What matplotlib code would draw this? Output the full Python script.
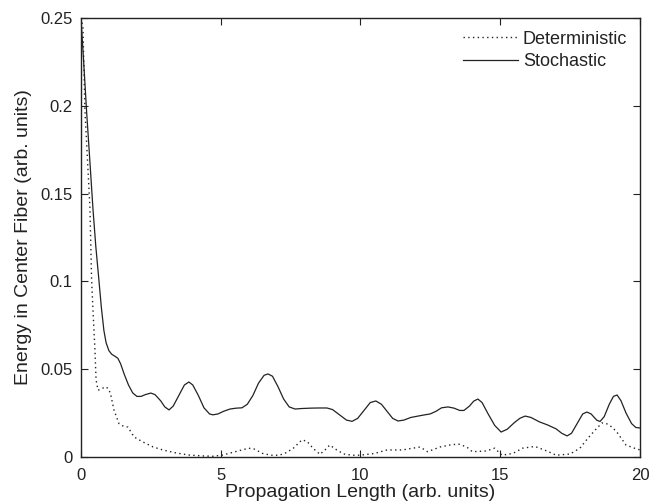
import matplotlib
matplotlib.use("Agg")
import matplotlib.pyplot as plt

plt.rcParams['font.family'] = ['Liberation Sans', 'DejaVu Sans']

# Stochastic propagation: energy remaining in the center fiber
stoch_x = [0, 0.1, 0.2, 0.32, 0.43, 0.53, 0.64, 0.73, 0.82, 0.9, 1.0, 1.1,
           1.2, 1.32, 1.42, 1.55, 1.7, 1.85, 2.0, 2.15, 2.3, 2.5, 2.65, 2.85,
           3.0, 3.15, 3.3, 3.5, 3.7, 3.86, 4.0, 4.2, 4.4, 4.6, 4.72, 4.9, 5.1,
           5.33, 5.55, 5.76, 5.95, 6.15, 6.35, 6.55, 6.69, 6.85, 7.05, 7.25,
           7.45, 7.66, 7.9, 8.2, 8.5, 8.8, 9.0, 9.25, 9.5, 9.7, 9.9, 10.15,
           10.35, 10.55, 10.75, 10.95, 11.15, 11.34, 11.55, 11.8, 12.06, 12.3,
           12.49, 12.7, 12.9, 13.13, 13.35, 13.55, 13.7, 13.9, 14.05, 14.2,
           14.35, 14.55, 14.8, 15.03, 15.25, 15.5, 15.7, 15.89, 16.1, 16.4,
           16.7, 17.0, 17.2, 17.39, 17.55, 17.75, 17.95, 18.1, 18.25, 18.45,
           18.57, 18.72, 18.9, 19.05, 19.18, 19.32, 19.5, 19.7, 19.85, 20]
stoch_y = [0.25, 0.224, 0.197, 0.168, 0.141, 0.12, 0.101, 0.085, 0.072,
           0.065, 0.0605, 0.0585, 0.0575, 0.0562, 0.053, 0.047, 0.041, 0.0365,
           0.0345, 0.0345, 0.0355, 0.0364, 0.0355, 0.032, 0.0285, 0.0268,
           0.029, 0.035, 0.041, 0.0427, 0.041, 0.035, 0.028, 0.0245, 0.024,
           0.0245, 0.026, 0.0273, 0.0278, 0.028, 0.030, 0.035, 0.042, 0.0465,
           0.0473, 0.046, 0.040, 0.033, 0.0285, 0.0273, 0.0276, 0.0278,
           0.0279, 0.0279, 0.027, 0.024, 0.021, 0.0203, 0.022, 0.027, 0.031,
           0.0319, 0.030, 0.026, 0.022, 0.0205, 0.021, 0.0225, 0.0233, 0.024,
           0.0245, 0.026, 0.028, 0.0285, 0.0278, 0.0265, 0.0265, 0.029,
           0.0318, 0.033, 0.031, 0.025, 0.018, 0.0142, 0.0158, 0.0195, 0.022,
           0.0233, 0.0225, 0.020, 0.0182, 0.016, 0.0135, 0.012, 0.0135, 0.019,
           0.0245, 0.0256, 0.0245, 0.021, 0.0202, 0.023, 0.030, 0.0345,
           0.0353, 0.032, 0.025, 0.019, 0.0168, 0.0165]

# Deterministic propagation
det_x = [0, 0.07, 0.14, 0.23, 0.32, 0.38, 0.44, 0.5, 0.54, 0.61, 0.75, 0.89,
         1.0, 1.07, 1.18, 1.36, 1.52, 1.68, 1.9, 2.22, 2.58, 2.93, 3.4, 3.86,
         4.36, 4.7, 5.04, 5.4, 5.76, 6.0, 6.2, 6.5, 6.8, 7.1, 7.35, 7.6, 7.9,
         8.08, 8.3, 8.55, 8.73, 8.9, 9.15, 9.4, 9.7, 9.98, 10.5, 10.95, 11.5,
         12.13, 12.4, 12.85, 13.2, 13.5, 13.8, 14.0, 14.5, 14.8, 15.06, 15.45,
         15.8, 16.24, 16.67, 17.0, 17.5, 17.85, 18.14, 18.4, 18.64, 18.8,
         19.0, 19.17, 19.5, 19.8, 20]
det_y = [0.25, 0.245, 0.198, 0.17, 0.142, 0.101, 0.08, 0.061, 0.044, 0.038,
         0.039, 0.040, 0.0385, 0.035, 0.0268, 0.019, 0.0175, 0.017, 0.0114,
         0.0085, 0.0057, 0.004, 0.0023, 0.0011, 0.0006, 0.0004, 0.001, 0.0025,
         0.004, 0.005, 0.0045, 0.002, 0.001, 0.001, 0.0025, 0.005, 0.0097,
         0.009, 0.005, 0.0015, 0.004, 0.0068, 0.004, 0.0017, 0.001, 0.001,
         0.002, 0.004, 0.004, 0.0057, 0.003, 0.0057, 0.0068, 0.0074, 0.0057,
         0.003, 0.0034, 0.005, 0.001, 0.002, 0.005, 0.006, 0.0034, 0.001,
         0.0017, 0.005, 0.0108, 0.0154, 0.0194, 0.019, 0.017, 0.0142, 0.0068,
         0.005, 0.004]

x_ticks = [0, 5, 10, 15, 20]
y_ticks = [0, 0.05, 0.1, 0.15, 0.2, 0.25]
y_tick_labels = ['0', '0.05', '0.1', '0.15', '0.2', '0.25']

ink = '#222222'

fig = plt.figure(figsize=(6.52, 5.04), dpi=100)
ax = fig.add_axes([0.1242, 0.0933, 0.8574, 0.871])

ax.plot(det_x, det_y, color=ink, lw=1.0, linestyle=(0, (1, 2.4)),
        label='Deterministic')
ax.plot(stoch_x, stoch_y, color=ink, lw=0.9, label='Stochastic')

ax.set_xlim(0, 20)
ax.set_ylim(0, 0.25)
ax.set_xticks(x_ticks)
ax.set_xticklabels([str(t) for t in x_ticks])
ax.set_yticks(y_ticks)
ax.set_yticklabels(y_tick_labels)
ax.tick_params(axis='both', direction='in', top=True, right=True, length=5,
               width=0.8, labelsize=12, colors=ink)
ax.tick_params(axis='x', pad=8)
ax.tick_params(axis='y', pad=6)
for s in ax.spines.values():
    s.set_linewidth(1.0)
    s.set_color(ink)

ax.set_xlabel('Propagation Length (arb. units)', fontsize=14, labelpad=1,
              color=ink)
ax.set_ylabel('Energy in Center Fiber (arb. units)', fontsize=14, labelpad=6,
              color=ink)

leg = ax.legend(loc='upper right', frameon=False, fontsize=13,
                handlelength=3.0, handletextpad=0.3, borderaxespad=0.5,
                borderpad=0.2, labelspacing=0.3)
for t in leg.get_texts():
    t.set_color(ink)

fig.savefig('out.png', dpi=100)
